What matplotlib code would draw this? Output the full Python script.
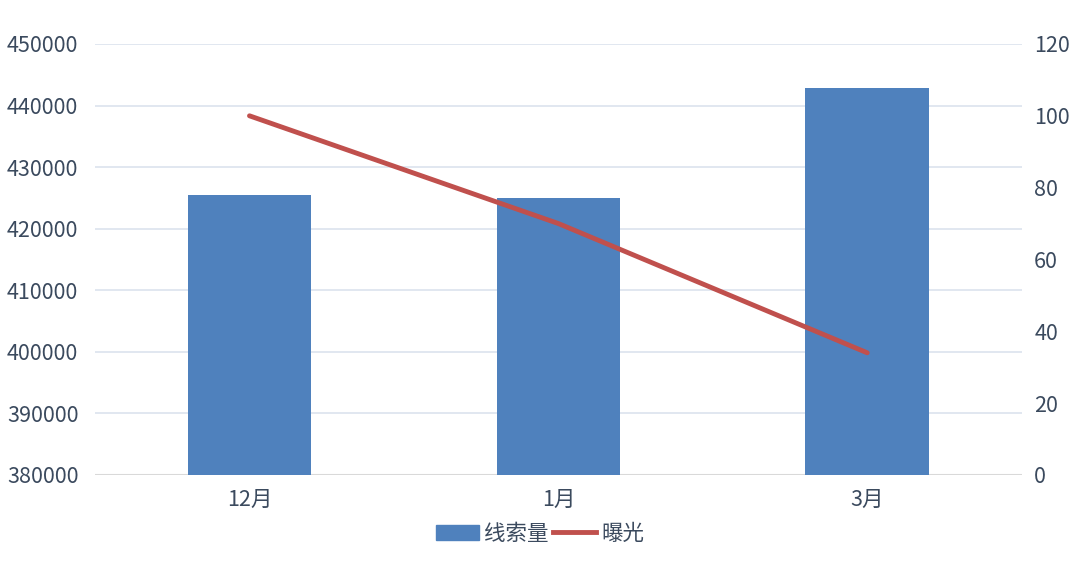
import matplotlib

matplotlib.use("Agg")

import matplotlib.pyplot as plt
from matplotlib.lines import Line2D
from matplotlib.patches import Patch

plt.rcParams["font.family"] = ["Noto Sans CJK SC", "DejaVu Sans"]

months = ["12月", "1月", "3月"]
leads = [425500, 424900, 442900]
exposure = [100, 70, 34]
left_ticks = [380000, 390000, 400000, 410000, 420000, 430000, 440000, 450000]
right_ticks = [0, 20, 40, 60, 80, 100, 120]

text_color = "#3b4a5e"
bar_color = "#4f81bd"
line_color = "#c0504d"
grid_color = "#dce3ee"

fig = plt.figure(figsize=(10.8, 5.64), dpi=100)
ax = fig.add_axes([0.088, 0.158, 0.858, 0.764])
ax2 = ax.twinx()

x = list(range(len(months)))
ax.bar(x, leads, width=0.4, color=bar_color, zorder=2)
ax.set_ylim(left_ticks[0], left_ticks[-1])
ax.set_xlim(-0.5, len(months) - 0.5)
ax.set_yticks(left_ticks)
ax.set_xticks(x)
ax.set_xticklabels(months)
for t in left_ticks[1:]:
    ax.axhline(t, color=grid_color, linewidth=1.2, zorder=1)
ax.axhline(left_ticks[0], color="#d9d9d9", linewidth=1.5, zorder=1)

ax2.plot(x, exposure, color=line_color, linewidth=3.5, solid_capstyle="round", zorder=3)
ax2.set_ylim(right_ticks[0], right_ticks[-1])
ax2.set_yticks(right_ticks)

for a in (ax, ax2):
    for s in a.spines.values():
        s.set_visible(False)
    a.tick_params(length=0, labelsize=15.5, colors=text_color)
ax.tick_params(axis="y", pad=12)
ax2.tick_params(axis="y", pad=9)
ax.tick_params(axis="x", pad=10)

handles = [
    Patch(color=bar_color, label="线索量"),
    Line2D([0], [0], color=line_color, linewidth=3.5, label="曝光"),
]
fig.legend(handles=handles, loc="lower center", bbox_to_anchor=(0.5, 0.0), ncol=2,
           frameon=False, fontsize=15.5, labelcolor=text_color, handlelength=2.0,
           handletextpad=0.25, columnspacing=0.2)

fig.savefig("out.png", dpi=100)
